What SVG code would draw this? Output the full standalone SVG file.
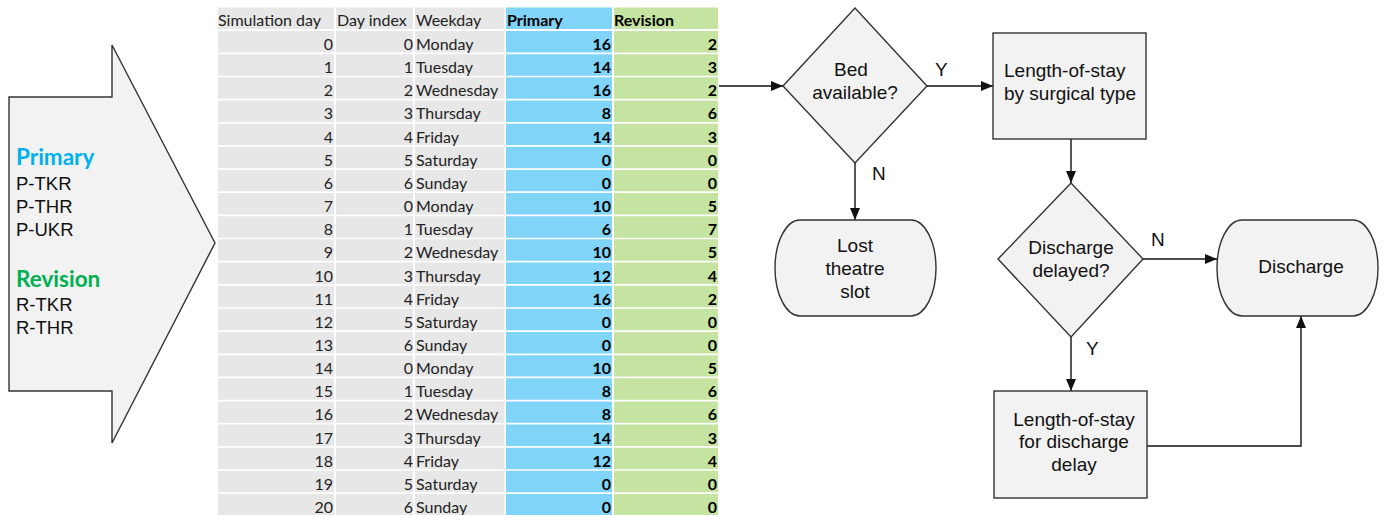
<svg xmlns="http://www.w3.org/2000/svg" width="1385" height="515" viewBox="0 0 1385 515">
<style>
.node{fill:#F2F2F2;stroke:#333;stroke-width:1.4}
.lbl{font-family:"Liberation Sans",Arial,sans-serif;font-size:19px;fill:#111}
.c{text-anchor:middle}
.t{font-family:Lato,"Liberation Sans",sans-serif;font-size:16px;fill:#222}
.r{text-anchor:end}
.b{font-weight:bold;fill:#000}
.conn{fill:none;stroke:#111;stroke-width:1.4}
.gap{stroke:#fff;stroke-width:1.7}
</style>
<defs>
<marker id="ah" markerUnits="userSpaceOnUse" markerWidth="12" markerHeight="10" refX="12" refY="5" orient="auto">
<path d="M0,0 L12,5 L0,10 Z" fill="#111"/>
</marker>
</defs>
<g id="input-arrow">
<polygon class="node" points="9,97 112,97 112,45 215,243 112,443 112,391 9,391"/>
<text x="16" y="165" font-family="Lato,'Liberation Sans',sans-serif" font-size="22.5" font-weight="bold" fill="#00B0F0">Primary</text>
<text class="lbl" x="16" y="190" style="font-size:18.5px">P-TKR</text>
<text class="lbl" x="16" y="213" style="font-size:18.5px">P-THR</text>
<text class="lbl" x="16" y="236" style="font-size:18.5px">P-UKR</text>
<text x="16" y="287" font-family="Lato,'Liberation Sans',sans-serif" font-size="22.5" font-weight="bold" fill="#00B050">Revision</text>
<text class="lbl" x="16" y="311" style="font-size:18.5px">R-TKR</text>
<text class="lbl" x="16" y="334" style="font-size:18.5px">R-THR</text>
</g>
<g id="table">
<rect x="218" y="7.5" width="116" height="508" fill="#E7E7E7"/>
<rect x="336" y="7.5" width="77" height="508" fill="#E7E7E7"/>
<rect x="415" y="7.5" width="89.5" height="508" fill="#E7E7E7"/>
<rect x="506" y="7.5" width="106" height="508" fill="#7FD4F7"/>
<rect x="614" y="7.5" width="104" height="508" fill="#C5E3A1"/>
<line class="gap" x1="218" x2="718" y1="30" y2="30" style="stroke-width:2"/>
<g class="gap">
<line x1="218" x2="718" y1="53.3" y2="53.3"/><line x1="218" x2="718" y1="76.5" y2="76.5"/><line x1="218" x2="718" y1="99.6" y2="99.6"/><line x1="218" x2="718" y1="122.8" y2="122.8"/><line x1="218" x2="718" y1="145.9" y2="145.9"/><line x1="218" x2="718" y1="169.1" y2="169.1"/><line x1="218" x2="718" y1="192.2" y2="192.2"/><line x1="218" x2="718" y1="215.4" y2="215.4"/><line x1="218" x2="718" y1="238.5" y2="238.5"/><line x1="218" x2="718" y1="261.7" y2="261.7"/><line x1="218" x2="718" y1="284.8" y2="284.8"/><line x1="218" x2="718" y1="308" y2="308"/><line x1="218" x2="718" y1="331.1" y2="331.1"/><line x1="218" x2="718" y1="354.3" y2="354.3"/><line x1="218" x2="718" y1="377.4" y2="377.4"/><line x1="218" x2="718" y1="400.6" y2="400.6"/><line x1="218" x2="718" y1="423.7" y2="423.7"/><line x1="218" x2="718" y1="446.9" y2="446.9"/><line x1="218" x2="718" y1="470" y2="470"/><line x1="218" x2="718" y1="493.2" y2="493.2"/>
</g>
<g class="t">
<text x="218" y="25.5">Simulation day</text><text x="337" y="25.5">Day index</text><text x="416" y="25.5">Weekday</text><text class="b" x="507" y="25.5">Primary</text><text class="b" x="614" y="25.5">Revision</text>
</g>
<g class="t r">
<text x="333" y="50">0</text><text x="333" y="73.15">1</text><text x="333" y="96.3">2</text><text x="333" y="119.45">3</text><text x="333" y="142.6">4</text><text x="333" y="165.75">5</text><text x="333" y="188.9">6</text><text x="333" y="212.05">7</text><text x="333" y="235.2">8</text><text x="333" y="258.35">9</text><text x="333" y="281.5">10</text><text x="333" y="304.65">11</text><text x="333" y="327.8">12</text><text x="333" y="350.95">13</text><text x="333" y="374.1">14</text><text x="333" y="397.25">15</text><text x="333" y="420.4">16</text><text x="333" y="443.55">17</text><text x="333" y="466.7">18</text><text x="333" y="489.85">19</text><text x="333" y="513">20</text>
<text x="413" y="50">0</text><text x="413" y="73.15">1</text><text x="413" y="96.3">2</text><text x="413" y="119.45">3</text><text x="413" y="142.6">4</text><text x="413" y="165.75">5</text><text x="413" y="188.9">6</text><text x="413" y="212.05">0</text><text x="413" y="235.2">1</text><text x="413" y="258.35">2</text><text x="413" y="281.5">3</text><text x="413" y="304.65">4</text><text x="413" y="327.8">5</text><text x="413" y="350.95">6</text><text x="413" y="374.1">0</text><text x="413" y="397.25">1</text><text x="413" y="420.4">2</text><text x="413" y="443.55">3</text><text x="413" y="466.7">4</text><text x="413" y="489.85">5</text><text x="413" y="513">6</text>
</g>
<g class="t">
<text x="416" y="50">Monday</text><text x="416" y="73.15">Tuesday</text><text x="416" y="96.3">Wednesday</text><text x="416" y="119.45">Thursday</text><text x="416" y="142.6">Friday</text><text x="416" y="165.75">Saturday</text><text x="416" y="188.9">Sunday</text><text x="416" y="212.05">Monday</text><text x="416" y="235.2">Tuesday</text><text x="416" y="258.35">Wednesday</text><text x="416" y="281.5">Thursday</text><text x="416" y="304.65">Friday</text><text x="416" y="327.8">Saturday</text><text x="416" y="350.95">Sunday</text><text x="416" y="374.1">Monday</text><text x="416" y="397.25">Tuesday</text><text x="416" y="420.4">Wednesday</text><text x="416" y="443.55">Thursday</text><text x="416" y="466.7">Friday</text><text x="416" y="489.85">Saturday</text><text x="416" y="513">Sunday</text>
</g>
<g class="t r b">
<text x="611" y="50">16</text><text x="611" y="73.15">14</text><text x="611" y="96.3">16</text><text x="611" y="119.45">8</text><text x="611" y="142.6">14</text><text x="611" y="165.75">0</text><text x="611" y="188.9">0</text><text x="611" y="212.05">10</text><text x="611" y="235.2">6</text><text x="611" y="258.35">10</text><text x="611" y="281.5">12</text><text x="611" y="304.65">16</text><text x="611" y="327.8">0</text><text x="611" y="350.95">0</text><text x="611" y="374.1">10</text><text x="611" y="397.25">8</text><text x="611" y="420.4">8</text><text x="611" y="443.55">14</text><text x="611" y="466.7">12</text><text x="611" y="489.85">0</text><text x="611" y="513">0</text>
<text x="717" y="50">2</text><text x="717" y="73.15">3</text><text x="717" y="96.3">2</text><text x="717" y="119.45">6</text><text x="717" y="142.6">3</text><text x="717" y="165.75">0</text><text x="717" y="188.9">0</text><text x="717" y="212.05">5</text><text x="717" y="235.2">7</text><text x="717" y="258.35">5</text><text x="717" y="281.5">4</text><text x="717" y="304.65">2</text><text x="717" y="327.8">0</text><text x="717" y="350.95">0</text><text x="717" y="374.1">5</text><text x="717" y="397.25">6</text><text x="717" y="420.4">6</text><text x="717" y="443.55">3</text><text x="717" y="466.7">4</text><text x="717" y="489.85">0</text><text x="717" y="513">0</text>
</g>
</g>
<g id="connectors">
<path class="conn" d="M719,86 H783" marker-end="url(#ah)"/>
<path class="conn" d="M927,86 H993" marker-end="url(#ah)"/>
<path class="conn" d="M855,163 V220" marker-end="url(#ah)"/>
<path class="conn" d="M1071,139 V183" marker-end="url(#ah)"/>
<path class="conn" d="M1143,259 H1217" marker-end="url(#ah)"/>
<path class="conn" d="M1071,337 V391" marker-end="url(#ah)"/>
<path class="conn" d="M1147,446 H1301 V316" marker-end="url(#ah)"/>
<text class="lbl" x="935" y="76">Y</text>
<text class="lbl" x="872" y="180">N</text>
<text class="lbl" x="1151" y="246">N</text>
<text class="lbl" x="1086" y="355">Y</text>
</g>
<g id="bed-available">
<polygon class="node" points="783,86 855,8 927,86 855,163"/>
<text class="lbl c" x="851" y="76">Bed</text>
<text class="lbl c" x="855" y="99">available?</text>
</g>
<g id="los-surgical">
<rect class="node" x="993" y="33" width="153" height="106"/>
<text class="lbl" x="1004" y="77">Length-of-stay</text>
<text class="lbl" x="1004" y="100">by surgical type</text>
</g>
<g id="lost-slot">
<path class="node" d="M800,220 H911 A25,48 0 0 1 911,316 H800 A25,48 0 0 1 800,220 Z"/>
<text class="lbl c" x="855" y="252">Lost</text>
<text class="lbl c" x="855" y="275">theatre</text>
<text class="lbl c" x="855" y="298">slot</text>
</g>
<g id="discharge-delayed">
<polygon class="node" points="998,259 1071,183 1143,259 1071,337"/>
<text class="lbl c" x="1071" y="254">Discharge</text>
<text class="lbl c" x="1071" y="277">delayed?</text>
</g>
<g id="discharge">
<path class="node" d="M1242,220 H1353 A25,48 0 0 1 1353,316 H1242 A25,48 0 0 1 1242,220 Z"/>
<text class="lbl c" x="1301" y="273">Discharge</text>
</g>
<g id="los-delay">
<rect class="node" x="994" y="391" width="153" height="107"/>
<text class="lbl c" x="1074" y="426">Length-of-stay</text>
<text class="lbl c" x="1074" y="448">for discharge</text>
<text class="lbl c" x="1074" y="471">delay</text>
</g>
</svg>
